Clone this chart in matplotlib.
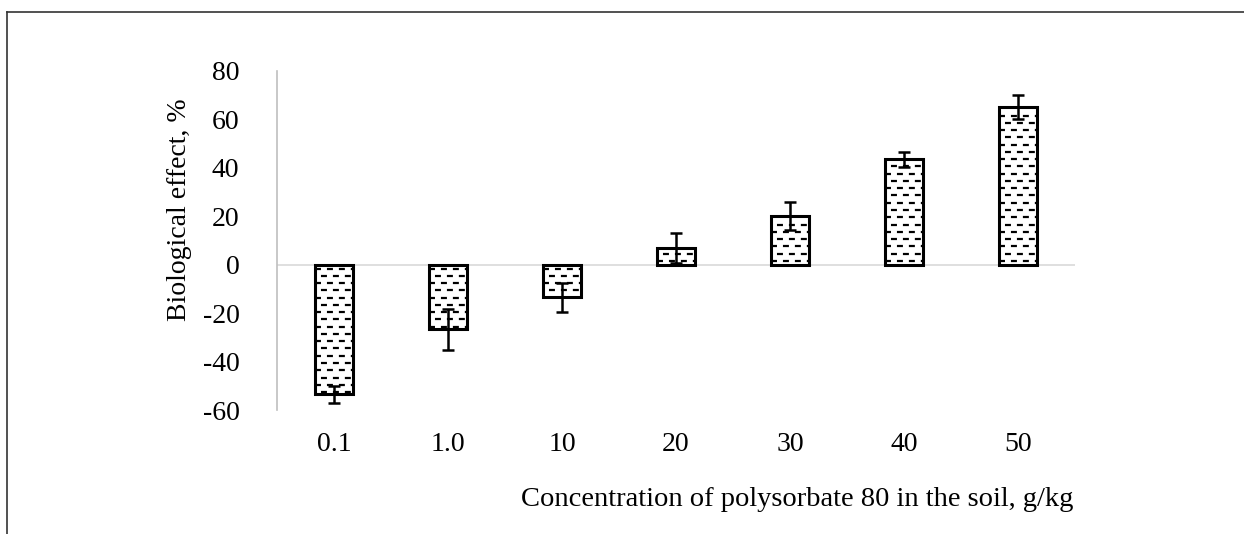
import matplotlib
matplotlib.use("Agg")
import matplotlib.pyplot as plt
from matplotlib.lines import Line2D
import numpy as np

categories = ["0.1", "1.0", "10", "20", "30", "40", "50"]
values = [-53.5, -26.7, -13.4, 7.0, 20.0, 43.5, 65.0]
errors = [3.5, 8.5, 6.0, 6.3, 5.7, 3.0, 5.0]
yticks = [-60, -40, -20, 0, 20, 40, 60, 80]

plt.rcParams['font.family'] = ['Liberation Serif', 'DejaVu Serif']
plt.rcParams['lines.scale_dashes'] = False
FS = 20

W, H = 1244, 534
fig = plt.figure(figsize=(W / 100, H / 100), dpi=100)
ax = fig.add_axes([277 / W, 1 - 410 / H, (1075 - 277) / W, (410 - 71) / H])

x = np.arange(len(categories))
bw = 0.33
bars = ax.bar(x, values, width=bw, color='white', edgecolor='black',
              linewidth=2.2, zorder=3)

# dashed fill pattern inside each bar
spacing = 3.0
for xi, v, b in zip(x, values, bars):
    sgn = 1 if v >= 0 else -1
    k = 0
    y = 1.6
    while y < abs(v) - 0.8:
        off = 0 if k % 2 == 0 else 4.3
        ln = Line2D([xi - bw / 2, xi + bw / 2], [sgn * y, sgn * y], color='black',
                    linewidth=1.6, linestyle=(off, (4.3, 4.3)), zorder=4)
        ax.add_line(ln)
        ln.set_clip_path(b)
        y += spacing
        k += 1

ax.errorbar(x, values, yerr=errors, fmt='none', ecolor='black', elinewidth=1.8,
            capsize=4, capthick=1.8, zorder=5)

ax.axhline(0, color='#d9d9d9', linewidth=1.2, zorder=1)
ax.set_xlim(-0.5, len(categories) - 0.5)
ax.set_ylim(-60, 80)
ax.set_yticks(yticks)
ax.set_yticklabels([str(t) for t in yticks], fontsize=FS)
ax.set_xticks(x)
ax.set_xticklabels(categories, fontsize=FS)
ax.tick_params(axis='y', length=0, pad=27)
ax.tick_params(axis='x', length=0, pad=16)
for s in ['top', 'right', 'bottom']:
    ax.spines[s].set_visible(False)
ax.spines['left'].set_color('#bfbfbf')
ax.spines['left'].set_linewidth(1.2)

fig.text(180 / W, 1 - 210 / H, "Biological effect, %", rotation=90,
         ha='center', va='center', fontsize=FS)
fig.text(1073 / W, 1 - 506 / H, "Concentration of polysorbate 80 in the soil, g/kg",
         ha='right', va='baseline', fontsize=20.5)

# outer frame (top and left edges)
fig.add_artist(Line2D([7 / W, 1], [1 - 11.5 / H, 1 - 11.5 / H], color='#333333',
                      linewidth=1.2, transform=fig.transFigure))
fig.add_artist(Line2D([7 / W, 7 / W], [0, 1 - 11.5 / H], color='#333333',
                      linewidth=1.2, transform=fig.transFigure))

fig.savefig("out.png", dpi=100)
